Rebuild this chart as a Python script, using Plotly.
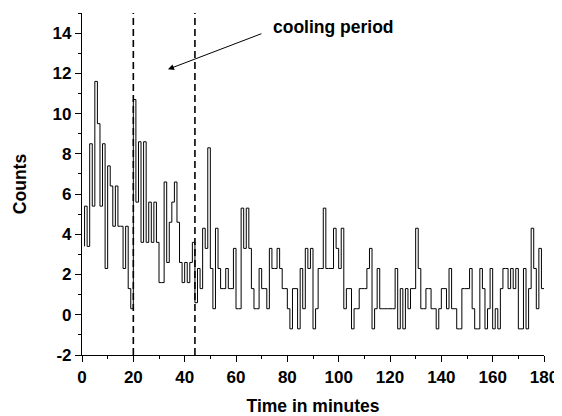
import plotly.graph_objects as go

# Time axis (minutes) - bin edges
minutes = list(range(1, 181))

# Start level at t=1 followed by one value per 1-minute bin (bins 1..179)
start_level = [3.4]
counts = [
    5.4, 3.4, 8.5, 5.4, 11.6, 9.5, 5.4, 8.5, 2.3, 7.4,
    6.4, 4.4, 6.4, 4.4, 4.4, 2.3, 4.4, 1.3, 0.3, 10.7,
    5.6, 8.6, 3.6, 8.6, 3.6, 5.6, 3.6, 5.6, 3.6, 1.6,
    1.6, 6.6, 2.6, 4.6, 5.6, 6.6, 4.6, 2.6, 1.6, 2.6,
    1.6, 2.6, 3.6, 0.6, 2.3, 1.3, 4.3, 3.3, 8.3, 2.3,
    0.3, 4.3, 2.3, 1.3, 1.3, 2.3, 1.3, 1.3, 3.3, 0.3,
    0.3, 5.3, 3.3, 5.3, 3.3, 1.3, 0.3, 0.3, 2.3, 1.3,
    1.3, 0.3, 3.3, 2.3, 2.3, 3.3, 2.3, 1.3, 1.3, 0.3,
    -0.7, 1.3, 1.3, -0.7, 2.3, 0.3, 3.3, 2.3, 3.3, -0.7,
    0.3, 2.3, 2.3, 5.3, 2.3, 2.3, 2.3, 4.3, 3.3, 2.3,
    4.3, 0.3, 1.3, 1.3, -0.7, 0.3, 0.3, 1.3, 1.3, 1.3,
    2.3, 3.3, -0.7, 0.3, 2.3, 0.3, 0.3, 0.3, 0.3, 0.3,
    0.3, 2.3, -0.7, 1.3, -0.7, 1.3, 0.3, 1.3, 1.3, 4.3,
    2.3, 0.3, 0.3, 1.3, 1.3, 0.3, 0.3, -0.7, 0.3, 1.3,
    1.3, 0.3, 2.3, 0.3, 0.3, -0.7, -0.7, 1.3, 1.3, 1.3,
    2.3, 0.3, -0.7, -0.7, 2.3, 1.3, -0.7, 0.3, 2.3, -0.7,
    0.3, -0.7, 1.3, 2.3, 2.3, 1.3, 2.3, 1.3, 2.3, -0.7,
    -0.7, 2.3, -0.7, 1.3, 4.3, 2.3, 0.3, 3.3, 1.3,
]

cooling_bounds = [20, 44]
x_ticks = list(range(0, 181, 20))
y_ticks = list(range(-2, 15, 2))

FONT = "Liberation Sans, Arial, sans-serif"
tick_font = dict(family=FONT, size=17, color="black", weight="bold")
title_font = dict(family=FONT, size=17.5, color="black", weight="bold")

fig = go.Figure()
fig.add_trace(go.Scatter(
    x=minutes, y=start_level + counts, mode="lines",
    line=dict(color="black", width=1, shape="vh"),
    showlegend=False, hoverinfo="skip",
))

for xb in cooling_bounds:
    fig.add_shape(type="line", xref="x", yref="y", x0=xb, x1=xb, y0=-2, y1=15,
                  line=dict(color="black", width=1.6, dash="7px,4px"))

fig.add_annotation(x=33.5, y=12.2, ax=70.5, ay=14.0, xref="x", yref="y",
                   axref="x", ayref="y", text="", showarrow=True,
                   arrowhead=2, arrowsize=1.2, arrowwidth=1, arrowcolor="black")
fig.add_annotation(x=73.5, y=14.3, xref="x", yref="y", text="cooling period",
                   showarrow=False, xanchor="left", yanchor="middle",
                   font=dict(family=FONT, size=17.5, color="black", weight="bold"))

axis_common = dict(showline=True, linecolor="black", linewidth=1.2, ticks="outside",
                   ticklen=6, tickwidth=1.2, tickcolor="black", showgrid=False,
                   zeroline=False, mirror=False, automargin=False,
                   tickfont=tick_font)

fig.update_xaxes(range=[0, 180], tickvals=x_ticks, ticktext=[str(v) for v in x_ticks],
                 minor=dict(dtick=10, ticklen=3, tickwidth=1.2, tickcolor="black", ticks="outside"),
                 title=dict(text="Time in minutes", font=title_font, standoff=14),
                 **axis_common)
fig.update_yaxes(range=[-2, 15], tickvals=y_ticks, ticktext=[str(v) for v in y_ticks],
                 minor=dict(dtick=1, ticklen=3, tickwidth=1.2, tickcolor="black", ticks="outside"),
                 title=dict(text="Counts", font=title_font, standoff=21),
                 **axis_common)

# page has an 8px body margin, so the figure is offset by 8px
fig.update_layout(width=554, height=408, margin=dict(l=74, r=18, t=5, b=61),
                  plot_bgcolor="white", paper_bgcolor="white")

fig.write_html("out.html")
